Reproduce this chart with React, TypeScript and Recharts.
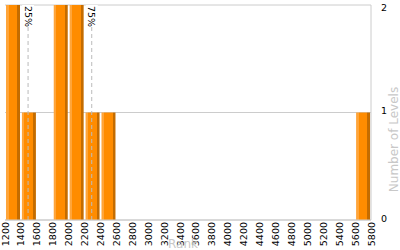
import React from 'react';
import { BarChart, Bar, XAxis, YAxis, CartesianGrid, ReferenceLine } from 'recharts';

const binCenters = [1300,1500,1700,1900,2100,2300,2500,2700,2900,3100,3300,3500,3700,3900,4100,4300,4500,4700,4900,5100,5300,5500,5700];
const levelCounts = [2,1,0,2,2,1,1,0,0,0,0,0,0,0,0,0,0,0,0,0,0,0,1];
const xTicks = [1200,1400,1600,1800,2000,2200,2400,2600,2800,3000,3200,3400,3600,3800,4000,4200,4400,4600,4800,5000,5200,5400,5600,5800];
const yTicks = [0,1,2];
const quartiles = [{ label: '25%', value: 1490 }, { label: '75%', value: 2290 }];

const data = binCenters.map((c, i) => ({ rank: c, levels: levelCounts[i] }));

const FONT = 'DejaVu Sans, Verdana, sans-serif';

const XTick = (props: any) => {
  const { x, y, payload } = props;
  const ty = y;
  return (
    <text x={x} y={ty} transform={`rotate(-90 ${x} ${ty})`} textAnchor="end" dominantBaseline="central" fontSize={9.5} fontFamily={FONT} fill="#000">
      {payload.value}
    </text>
  );
};

const YTick = (props: any) => {
  const { x, y, payload } = props;
  return (
    <text x={x} y={y} textAnchor="start" dominantBaseline="central" fontSize={9.5} fontFamily={FONT} fill="#000" dx={2} dy={-2}>
      {payload.value}
    </text>
  );
};

const QLabel = (text: string) => (props: any) => {
  const vb = props.viewBox || {};
  const x = vb.x;
  const y = vb.y;
  return (
    <g>
      <rect x={x - 6} y={y} width={12} height={22} fill="#fff" />
      <text x={x} y={y + 1} transform={`rotate(90 ${x} ${y + 1})`} textAnchor="start" dominantBaseline="central" fontSize={9.5} fontFamily={FONT} fill="#000">
        {text}
      </text>
    </g>
  );
};

export default function App() {
  return (
    <div style={{ position: 'absolute', left: 0, top: 0, width: 400, height: 250, background: '#fff' }}>
      <BarChart width={400} height={250} data={data} margin={{ top: 5, right: 0, left: 5, bottom: 0 }} barCategoryGap={1}>
        <defs>
          <linearGradient id="barGrad" x1="0" y1="0" x2="1" y2="0">
            <stop offset="0%" stopColor="#FFA53A" />
            <stop offset="18%" stopColor="#FFA53A" />
            <stop offset="18%" stopColor="#FF8C00" />
            <stop offset="80%" stopColor="#FF8C00" />
            <stop offset="80%" stopColor="#C46C00" />
            <stop offset="100%" stopColor="#C46C00" />
          </linearGradient>
        </defs>
        <CartesianGrid vertical={false} stroke="#cccccc" />
        <XAxis
          dataKey="rank"
          type="number"
          domain={[1200, 5800]}
          ticks={xTicks}
          interval={0}
          height={30}
          tick={<XTick />}
          tickLine={false}
          tickSize={0}
          tickMargin={2}
          axisLine={{ stroke: '#cccccc' }}
          label={{ value: 'Rank', position: 'insideBottom', offset: 0, dx: -5, dy: -2, fill: '#c8c8c8', fontSize: 12, fontFamily: FONT }}
        />
        <YAxis
          orientation="right"
          domain={[0, 2]}
          ticks={yTicks}
          width={29}
          tick={<YTick />}
          tickLine={false}
          axisLine={{ stroke: '#cccccc' }}
          label={{ value: 'Number of Levels', angle: -90, position: 'center', dx: 8, dy: 27, fill: '#c8c8c8', fontSize: 12, fontFamily: FONT }}
        />
        {quartiles.map((q) => (
          <ReferenceLine key={q.label} x={q.value} stroke="#bbbbbb" strokeDasharray="4 3" label={QLabel(q.label)} />
        ))}
        <Bar dataKey="levels" fill="url(#barGrad)" isAnimationActive={false} />
      </BarChart>
    </div>
  );
}
